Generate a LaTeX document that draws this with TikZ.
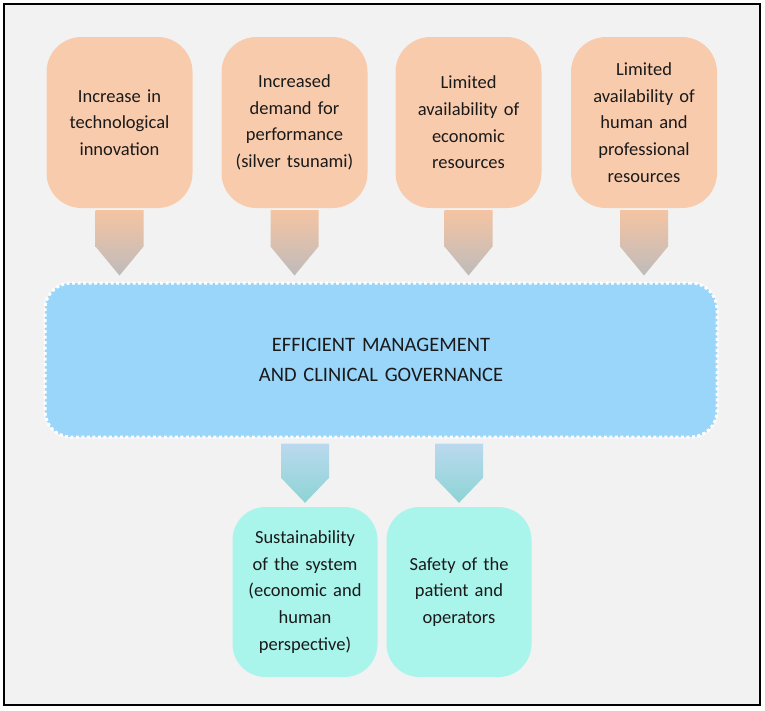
\documentclass[tikz,border=0pt]{standalone}
\usepackage{fontspec}
\setmainfont{Carlito}
\usetikzlibrary{calc}
\definecolor{bg}{HTML}{F2F2F2}
\definecolor{peach}{HTML}{F8CBAD}
\definecolor{sky}{HTML}{9AD6FA}
\definecolor{mint}{HTML}{A9F5EC}
\definecolor{txt}{HTML}{1A1A1A}
\definecolor{arrpeach}{HTML}{F5C4A2}
\definecolor{arrgray}{HTML}{BEBBBB}
\definecolor{arrblue}{HTML}{BAD9EE}
\definecolor{arrteal}{HTML}{8DD4D4}
% #1 from node, #2 to node, #3 node giving x, #4 top gap, #5 bottom gap, #6 head height, #7 top colour, #8 bottom colour
\newcommand\blockarrow[8]{%
  \shade[top color=#7, bottom color=#8]
    ($(#3 |- #1.south)+(-24,#4)$) -- ($(#3 |- #1.south)+(24,#4)$)
    -- ($(#3 |- #2.north)+(24,{-#5-#6})$)
    -- ($(#3 |- #2.north)+(0,-#5)$)
    -- ($(#3 |- #2.north)+(-24,{-#5-#6})$) -- cycle;}
\begin{document}
\begin{tikzpicture}[x=1pt,y=-1pt,
  cause/.style={fill=peach, rounded corners=35pt, minimum width=146pt, minimum height=171pt,
    text width=140pt, align=center, font=\fontsize{18.5}{26.7}\selectfont, text=txt, inner sep=0pt},
  goal/.style={fill=mint, rounded corners=33pt, minimum width=145pt, minimum height=170pt,
    text width=140pt, align=center, font=\fontsize{18.5}{26.7}\selectfont, text=txt, inner sep=0pt},
  core/.style={fill=sky, draw=white, line width=3pt, dash pattern=on 3pt off 2.5pt,
    rounded corners=26pt, minimum width=672pt, minimum height=154pt,
    text width=600pt, align=center, font=\fontsize{20.5}{30}\selectfont, text=txt, inner sep=0pt}]
\fill[white] (0,0) rectangle (765,710);
\useasboundingbox (0,0) rectangle (765,710);
\draw[line width=2pt, fill=bg] (4,4) rectangle (760,705);

\node[cause] (c1) at (119.5,122.5) {Increase in\\technological\\innovation};
\node[cause] (c2) at (294.5,122.5) {Increased\\demand for\\performance\\(silver tsunami)};
\node[cause] (c3) at (468.5,122.5) {Limited\\availability of\\economic\\resources};
\node[cause] (c4) at (644,122.5) {Limited\\availability of\\human and\\professional\\resources};

\node[core] (m) at (381,360) {EFFICIENT MANAGEMENT\\AND CLINICAL GOVERNANCE};

\node[goal] (g1) at (305,592) {Sustainability\\of the system\\(economic and\\human\\perspective)};
\node[goal] (g2) at (459,592) {Safety of the\\patient and\\operators};

\blockarrow{c1}{m}{c1}{2}{6}{29}{arrpeach}{arrgray}
\blockarrow{c2}{m}{c2}{2}{6}{29}{arrpeach}{arrgray}
\blockarrow{c3}{m}{c3}{2}{6}{29}{arrpeach}{arrgray}
\blockarrow{c4}{m}{c4}{2}{6}{29}{arrpeach}{arrgray}
\blockarrow{m}{g1}{g1}{5}{4}{25}{arrblue}{arrteal}
\blockarrow{m}{g2}{g2}{5}{4}{25}{arrblue}{arrteal}
\end{tikzpicture}
\end{document}
